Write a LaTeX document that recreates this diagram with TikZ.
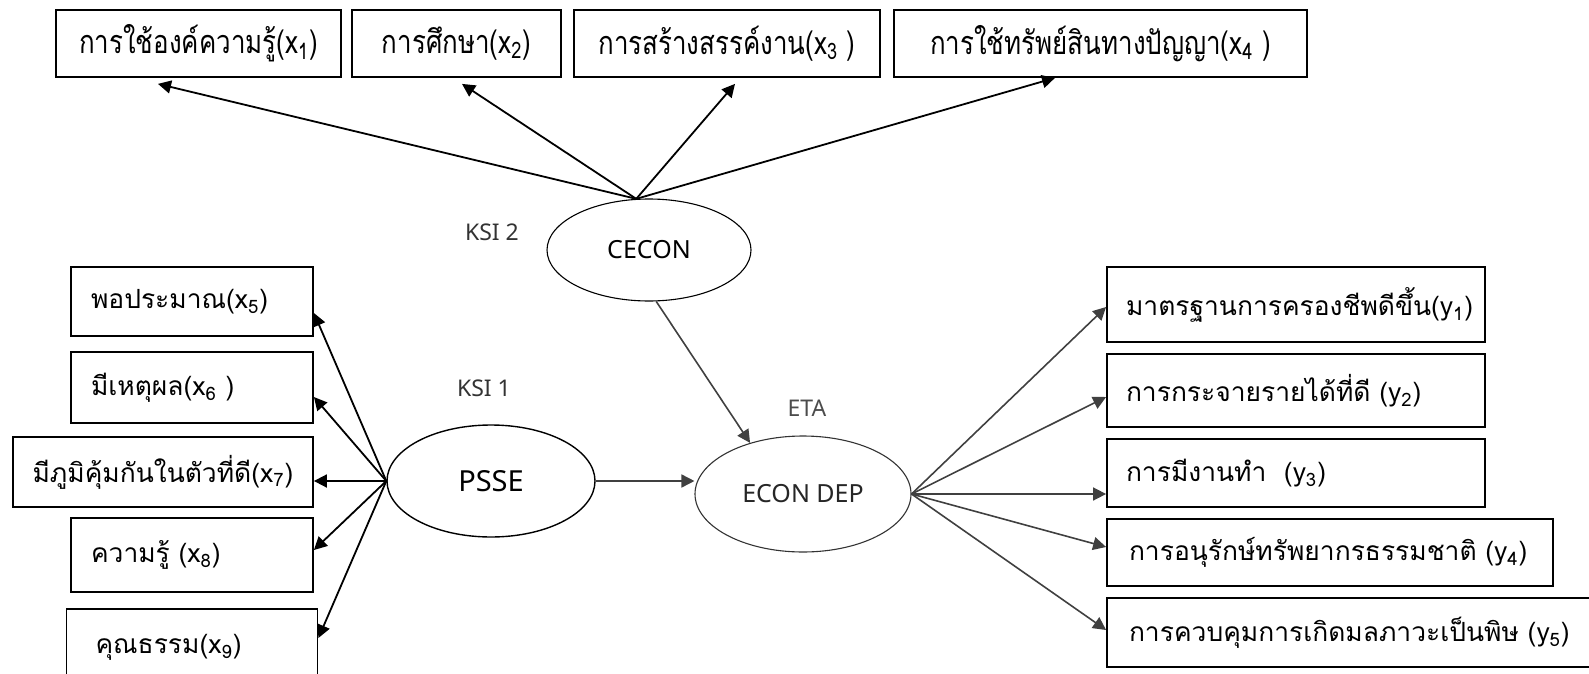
\documentclass[tikz,border=0pt]{standalone}
\usepackage{fontspec}
\usepackage{tikz}
\usetikzlibrary{calc,arrows.meta,shapes.geometric}
\newfontfamily\thai[Script=Thai]{Loma}
\newfontfamily\thainarrow[Script=Thai,FakeStretch=0.8]{Loma}
\newfontfamily\lbl{Noto Sans}
\tikzset{
	ind/.style={draw, rectangle, line width=0.9pt, inner ysep=0pt, font=\thai\fontsize{13.2}{15}\selectfont},
	indtop/.style={ind, font=\thainarrow\fontsize{16.2}{18}\selectfont},
	indleft/.style={ind, align=left},
	lat/.style={draw, ellipse, line width=0.55pt, inner sep=0pt},
	load/.style={-{Triangle[length=6.5pt,width=6.5pt]}, line width=0.9pt},
	path/.style={-{Triangle[length=6.5pt,width=6.5pt]}, line width=0.8pt, color=black!75},
	tag/.style={font=\lbl\fontsize{11.5}{13}\selectfont, color=black!80},
}
\begin{document}
\begin{tikzpicture}[x=0.5pt, y=-0.5pt]
		%%%%% START %%%%%
		\useasboundingbox (0, 0) rectangle (1589, 674);
		
		% top indicators
		\node[indtop, minimum width=142.5pt, minimum height=33.5pt] (x1) at (198.5, 43.5) {การใช้องค์ความรู้(x\textsubscript{1})};
		\node[indtop, minimum width=104.5pt, minimum height=33.5pt] (x2) at (456.5, 43.5) {การศึกษา(x\textsubscript{2})};
		\node[indtop, minimum width=153pt, minimum height=33.5pt] (x3) at (727, 43.5) {การสร้างสรรค์งาน(x\textsubscript{3} )};
		\node[indtop, minimum width=206.5pt, minimum height=33.5pt] (x4) at (1100.5, 43.5) {การใช้ทรัพย์สินทางปัญญา(x\textsubscript{4} )};
		
		% latent variables
		\node[lat, minimum width=102pt, minimum height=51pt, font=\lbl\fontsize{12.5}{14}\selectfont] (cecon) at (649, 250) {CECON};
		\node[lat, line width=0.7pt, minimum width=104pt, minimum height=56pt, font=\lbl\fontsize{14.5}{17}\selectfont] (psse) at (491, 481) {PSSE};
		\node[lat, draw=black!80, minimum width=108pt, minimum height=58pt, font=\lbl\fontsize{12.5}{14}\selectfont, text=black!85] (econ) at (803, 494) {ECON DEP};
		
		\node[tag] (ksitwo) at (492, 232) {KSI 2};
		\node[tag] (ksione) at (484, 388) {KSI 1};
		\node[tag, color=black!70] (eta) at (807, 408) {ETA};
		
		% left indicators
		\node[indleft, text width=101pt, inner xsep=10pt, minimum height=34.5pt] (x5) at (192, 301.5) {พอประมาณ(x\textsubscript{5})};
		\node[indleft, text width=101pt, inner xsep=10pt, minimum height=35.5pt] (x6) at (192, 387.5) {มีเหตุผล(x\textsubscript{6} )};
		\node[ind, minimum width=150pt, minimum height=35pt] (x7) at (163, 472) {มีภูมิคุ้มกันในตัวที่ดี(x\textsubscript{7})};
		\node[indleft, text width=101pt, inner xsep=10pt, minimum height=37pt] (x8) at (192, 555) {ความรู้ (x\textsubscript{8})};
		\node[indleft, text width=96.5pt, inner xsep=14.5pt, minimum height=38pt] (x9) at (192, 647) {คุณธรรม(x\textsubscript{9})};
		
		% right indicators
		\node[indleft, text width=170pt, inner xsep=9.5pt, minimum height=37.5pt] (y1) at (1296, 304.5) {มาตรฐานการครองชีพดีขึ้น(y\textsubscript{1})};
		\node[indleft, text width=170pt, inner xsep=9.5pt, minimum height=36.5pt] (y2) at (1296, 390.5) {การกระจายรายได้ที่ดี (y\textsubscript{2})};
		\node[indleft, text width=170pt, inner xsep=9.5pt, minimum height=34pt] (y3) at (1296, 473) {การมีงานทำ~ (y\textsubscript{3})};
		\node[indleft, text width=201pt, inner xsep=11pt, minimum height=33.5pt] (y4) at (1330, 552.5) {การอนุรักษ์ทรัพยากรธรรมชาติ (y\textsubscript{4})};
		\node[indleft, text width=224.5pt, inner xsep=11pt, minimum height=34.5pt] (y5) at (1353.5, 632.5) {การควบคุมการเกิดมลภาวะเป็นพิษ (y\textsubscript{5})};
		
		% loadings of CECON
		\draw[load] (cecon.104) -- ($(x1.south)+(-40.5, 6)$);
		\draw[load] (cecon.104) -- ($(x2.south)+(5.5, 6)$);
		\draw[load] (cecon.104) -- ($(x3.south)+(8, 6)$);
		\draw[load] (cecon.104) -- ($(x4.south)+(-45.5, 0)$);
		
		% loadings of PSSE
		\draw[load] (psse.west) -- ([yshift=-5.75pt]x5.east);
		\draw[load] (psse.west) -- ([yshift=-4.75pt]x6.east);
		\draw[load] (psse.west) -- (psse.west -| x7.east);
		\draw[load] (psse.west) -- ([yshift=2.5pt]x8.east);
		\draw[load] (psse.west) -- ([yshift=4.5pt]x9.east);
		
		% structural paths
		\draw[path] (cecon.-82) -- (econ.136);
		\draw[path] (psse.east) -- (psse.east -| econ.west);
		
		% loadings of ECON DEP
		\draw[path] (econ.east) -- ([yshift=-1.25pt]y1.west);
		\draw[path] (econ.east) -- ([yshift=-3.25pt]y2.west);
		\draw[path] (econ.east) -- (econ.east -| y3.west);
		\draw[path] (econ.east) -- ([yshift=2.75pt]y4.west);
		\draw[path] (econ.east) -- ([yshift=1.25pt]y5.west);
		%%%%% END %%%%%
	\end{tikzpicture}
\end{document}
